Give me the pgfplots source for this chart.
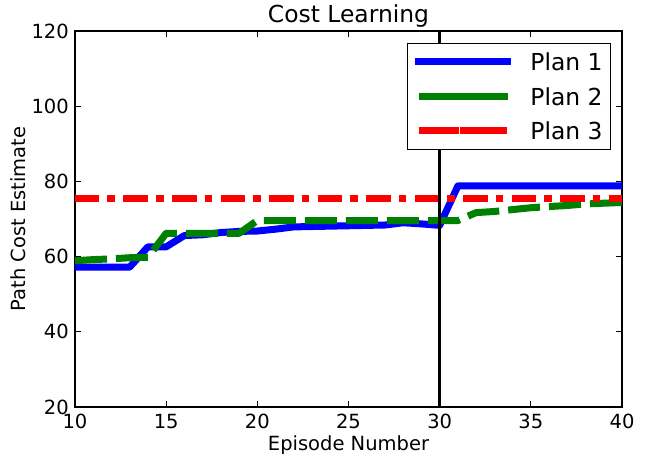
\documentclass[border=0pt]{standalone}
\usepackage{fontspec}
\setmainfont{DejaVu Sans}
\usepackage{pgfplots}
\pgfplotsset{compat=1.18}
\definecolor{mplblue}{RGB}{0,0,255}
\definecolor{mplgreen}{RGB}{0,128,0}
\definecolor{mplred}{RGB}{255,0,0}
\newcommand{\basefont}{\fontsize{19.5bp}{23bp}\selectfont}
\newcommand{\largefont}{\fontsize{23.4bp}{28bp}\selectfont}
\begin{document}
\begin{tikzpicture}
\begin{axis}[
  name=ax,
  scale only axis, width=547bp, height=376bp,
  xmin=10, xmax=40, ymin=20, ymax=120,
  xtick={10,15,...,40}, ytick={20,40,...,120},
  tick align=inside, major tick length=6bp,
  tick style={black, line width=0.8bp},
  axis line style={black, line width=1.25bp},
  /pgf/number format/assume math mode=true,
  tick label style={font=\basefont},
  xticklabel style={anchor=north, inner sep=0pt, yshift=-7bp},
  yticklabel style={anchor=east, inner sep=0pt, xshift=-6bp},
  xlabel={Episode Number}, ylabel={Path Cost Estimate},
  label style={font=\basefont, inner sep=0pt},
  xlabel style={at={(axis description cs:0.5,-0.117)}, anchor=base},
  ylabel style={at={(axis description cs:-0.0896,0.5)}, anchor=base},
  title={Cost Learning},
  every axis title shift=0pt,
  title style={font=\largefont, inner sep=0pt, at={(axis description cs:0.5,1.0213)}, anchor=base, yshift=0pt},
  legend style={
    at={(axis description cs:1,1)}, anchor=north east, xshift=-11bp, yshift=-11.7bp,
    draw=black, line width=1bp, fill=white,
    inner xsep=8bp, inner ysep=9.75bp,
    row sep=16.7bp, column sep=19bp,
    font=\largefont,
    nodes={inner sep=0pt, text depth=0pt},
    cells={anchor=west},
  },
  legend image code/.code={\path (-9bp,0bp) -- (80bp,0bp); \draw[#1] (0bp,0bp) -- (80bp,0bp);},
]
\addplot[mplblue, line width=7bp, line join=round, line cap=rect] coordinates {
(10,57.2) (11,57.2) (12,57.2) (13,57.2) (14,62.6) (15,62.6) (16,65.6) (17,65.8)
(18,66.4) (19,66.7) (20,66.8) (21,67.3) (22,67.9) (23,68.0) (24,68.1) (25,68.2)
(26,68.3) (27,68.4) (28,69.0) (29,68.7) (30,68.3) (31,78.8) (32,78.8) (33,78.8)
(34,78.8) (35,78.8) (36,78.8) (37,78.8) (38,78.8) (39,78.8) (40,78.8)};
\addlegendentry{Plan 1}
\addplot[mplgreen, line width=7bp, line join=round, dash pattern=on 32bp off 9bp] coordinates {
(10,58.9) (11,59.2) (12,59.4) (13,59.7) (14,59.8) (15,66.2) (16,66.2) (17,66.2)
(18,66.2) (19,66.2) (20,69.6) (21,69.6) (22,69.6) (23,69.6) (24,69.6) (25,69.6)
(26,69.6) (27,69.6) (28,69.6) (29,69.6) (30,69.6) (31,69.6) (32,71.7) (33,72.0)
(34,72.5) (35,73.0) (36,73.3) (37,73.6) (38,74.0) (39,74.2) (40,74.4)};
\addlegendentry{Plan 2}
\addplot[mplred, line width=7bp, line join=round, dash pattern=on 24.5bp off 8bp on 7.5bp off 8.5bp] coordinates {
(10,75.4) (20,75.4) (30,75.4) (40,75.4)};
\addlegendentry{Plan 3}
\addplot[black, line width=3.5bp, forget plot] coordinates {(30,20) (30,120)};
\end{axis}
\pgfresetboundingbox
\path[use as bounding box] ([xshift=-75bp,yshift=-52bp]ax.south west) rectangle ([xshift=25bp,yshift=31bp]ax.north east);
\end{tikzpicture}
\end{document}
